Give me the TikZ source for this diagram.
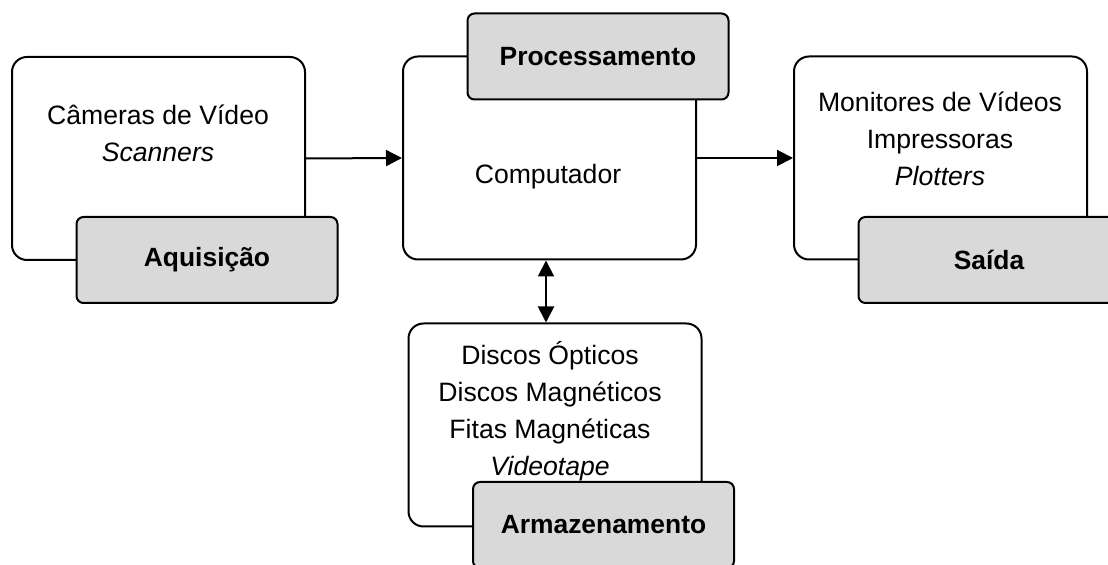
\documentclass[tikz,border=0pt]{standalone}
\usepackage{fontspec}
\setmainfont{Liberation Sans}
\usetikzlibrary{arrows.meta}
\begin{document}
\begin{tikzpicture}[x=0.5pt, y=-0.5pt,
			box/.style={draw, line width=1pt, rounded corners=7.5pt, fill=white, minimum width=146.5pt, minimum height=101.5pt},
			tab/.style={draw, line width=1pt, rounded corners=3.5pt, fill=gray!30, minimum width=130.5pt, minimum height=43pt, font=\fontsize{13.2}{16}\selectfont\bfseries},
			txt/.style={align=center, font=\fontsize{13.3}{18.5}\selectfont},
			arr/.style={line width=1pt, -{Triangle[length=8pt, width=8pt]}}]
			\useasboundingbox (0,0) rectangle (1108,565);
			\clip (0,0) rectangle (1108,565);
			\node[box] (acq) at (158.5, 158.5) {};
			\node[box] (comp) at (549.5, 158) {};
			\node[box] (out) at (940.5, 158) {};
			\node[box] (store) at (555, 425) {};
			\node[tab] (acqtab) at (207, 260) {Aquisição};
			\node[tab] (proctab) at (598, 56.5) {Processamento};
			\node[tab] (outtab) at (989, 260) {Saída};
			\node[tab] (storetab) at (603.5, 525) {Armazenamento};
			\node[txt] (acqtxt) at (158, 133.5) {Câmeras de Vídeo\\\textit{Scanners}};
			\node[txt] (comptxt) at (548, 177) {Computador};
			\node[txt] (outtxt) at (940, 138.5) {Monitores de Vídeos\\Impressoras\\\textit{Plotters}};
			\node[txt] (storetxt) at (550, 411) {Discos Ópticos\\Discos Magnéticos\\Fitas Magnéticas\\\textit{Videotape}};
			\draw[arr] (acq.east) -- (comp.west);
			\draw[arr] (comp.east) -- (out.west);
			\draw[arr, {Triangle[length=8pt, width=8pt]}-{Triangle[length=8pt, width=8pt]}] ([xshift=-1.75pt]comp.south) -- ([xshift=-1.75pt]comp.south |- store.north);
		\end{tikzpicture}
\end{document}
